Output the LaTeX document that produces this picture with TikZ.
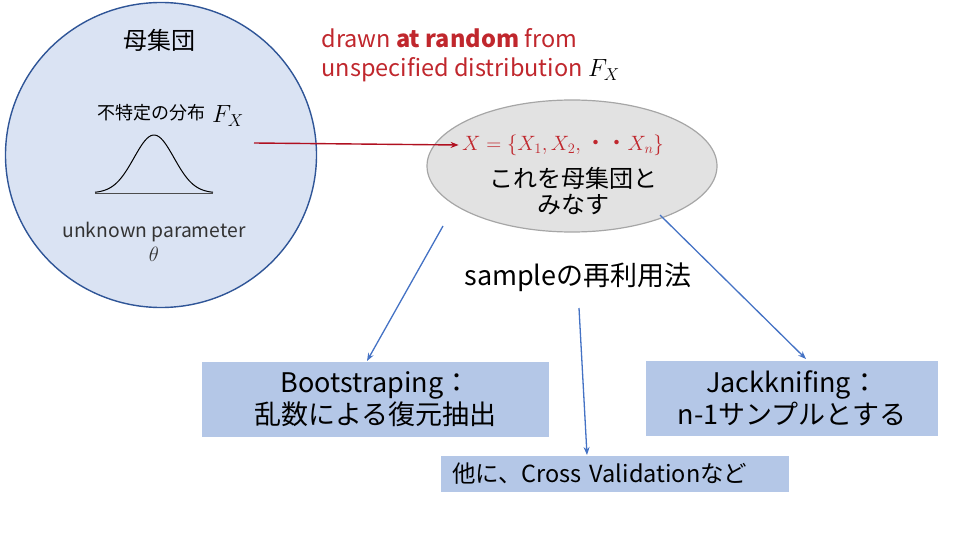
\documentclass[tikz,border=0pt]{standalone}
\usepackage{fontspec}
\setmainfont{Noto Sans CJK JP}
\usetikzlibrary{shapes.geometric,arrows.meta}
\definecolor{popfill}{HTML}{DAE3F3}
\definecolor{popline}{HTML}{2F5597}
\definecolor{smpfill}{HTML}{E2E2E2}
\definecolor{smpline}{HTML}{A6A6A6}
\definecolor{boxfill}{HTML}{B4C7E7}
\definecolor{arrblue}{HTML}{4472C4}
\definecolor{darkred}{HTML}{C0272D}
\definecolor{arrred}{HTML}{B01020}
\begin{document}
\begin{tikzpicture}[
  x=1pt, y=-1pt,
  fs/.style 2 args={font=\fontsize{#1}{#2}\selectfont},
  popu/.style={draw=popline, line width=1.4pt, fill=popfill, ellipse, minimum width=311pt, minimum height=305pt},
  smpl/.style={draw=smpline, line width=1.2pt, fill=smpfill, ellipse, minimum width=290pt, minimum height=132pt},
  method/.style={fill=boxfill, align=center, inner sep=0pt, minimum height=75pt, font=\fontsize{27}{32}\selectfont},
  blue arrow/.style={-{Stealth[length=8pt, width=6pt]}, draw=arrblue, line width=1.3pt},
  red arrow/.style={-{Stealth[length=8pt, width=6pt]}, draw=arrred, line width=1.4pt}
]
\useasboundingbox (0,0) rectangle (960,540);
% population
\node[popu] (pop) at (161,155) {};
\node[fs={24}{28}] (poptitle) at (159,40) {母集団};
\node[fs={18}{22}] (distlabel) at (151,113) {不特定の分布};
\node[fs={25}{28}] (distF) at (228,116) {$F_X$};
\draw[black!70, line width=0.4pt] (95,193) -- (213,193);
\draw[black, line width=1pt] plot[domain=-59:59, samples=60, smooth] ({154+\x},{193-58*exp(-(\x/20)^2/2)});
\node[fs={19.3}{24}, text=black!80, align=center] (param) at (154,242) {unknown parameter\\$\theta$};
% drawing note
\node[fs={23.5}{29}, text=darkred, align=left, anchor=west] (drawn) at (318,55)
  {drawn \textbf{at random} from\\unspecified distribution \textcolor{black}{$F_X$}};
% sample
\node[smpl] (smp) at (572,166) {};
\node[fs={21}{26}, text=darkred] (xset) at (563,145) {$X =\{X_1, X_2,$ ・・$X_n\}$};
\node[fs={24}{26}, align=center] (regard) at (573,191) {これを母集団と\\みなす};
\node[fs={27}{30}] (reuse) at (578,277) {sampleの再利用法};
% methods
\node[method, minimum width=347pt] (boot) at (375.5,399.5) {Bootstraping：\\乱数による復元抽出};
\node[method, minimum width=292pt] (jack) at (792,398.5) {Jackknifing：\\n-1サンプルとする};
\node[fill=boxfill, inner xsep=11pt, inner ysep=0pt, text width=326pt, align=left, minimum height=36pt, fs={23.5}{28}] (other) at (615,474) {他に、Cross Validationなど};
% connectors
\coordinate (rs) at (254,143);
\coordinate (bs) at (443,226);
\coordinate (be) at (367,361);
\coordinate (ms) at (579,308);
\coordinate (me) at (587,455);
\coordinate (js) at (660,215);
\coordinate (je) at (806,359);
\draw[red arrow] (rs) -- (xset.west);
\draw[blue arrow] (bs) -- (be);
\draw[blue arrow] (ms) -- (me);
\draw[blue arrow] (js) -- (je);
\end{tikzpicture}
\end{document}
